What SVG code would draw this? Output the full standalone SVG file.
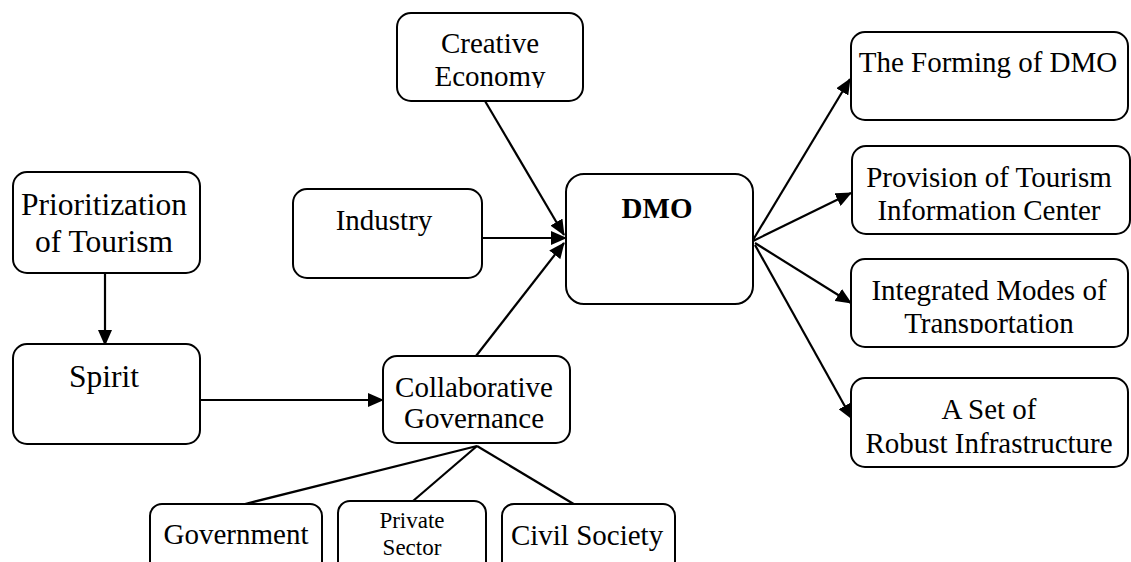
<svg xmlns="http://www.w3.org/2000/svg" width="1131" height="562" viewBox="0 0 1131 562">
  <style>
    .box { fill: #ffffff; stroke: #000000; stroke-width: 2; }
    .lbl { font-family: "Liberation Serif", "Times New Roman", serif; font-size: 29px; fill: #000000; text-anchor: middle; }
    .large { font-size: 31.5px; }
    .small { font-size: 23px; }
    .bold { font-weight: bold; }
    .edge { fill: none; stroke: #000000; stroke-width: 2.2; }
    .arrow { marker-end: url(#head); }
  </style>
  <defs>
    <marker id="head" markerUnits="userSpaceOnUse" markerWidth="16" markerHeight="14" viewBox="0 0 16 14" refX="15" refY="7" orient="auto">
      <path d="M0,0 L16,7 L0,14 Z" fill="#000000"/>
    </marker>
    <clipPath id="clipEconomy"><rect x="397" y="13" width="186" height="75"/></clipPath>
    <clipPath id="clipTransport"><rect x="851" y="259" width="277" height="74"/></clipPath>
  </defs>

  <rect width="1131" height="562" fill="#ffffff"/>

  <!-- connectors -->
  <g id="connectors">
    <path class="edge arrow" d="M105,273 L105,345"/>
    <path class="edge arrow" d="M200,400 L383,400"/>
    <path class="edge arrow" d="M476,356 L564,243"/>
    <path class="edge arrow" d="M482,238 L566,238"/>
    <path class="edge arrow" d="M485,101 L564,235"/>
    <path class="edge arrow" d="M753,240 L850,79"/>
    <path class="edge arrow" d="M753,241 L851,193"/>
    <path class="edge arrow" d="M755,243 L851,303"/>
    <path class="edge arrow" d="M755,245 L852,419"/>
    <path class="edge" d="M477,446 L245,504"/>
    <path class="edge" d="M477,446 L413,501"/>
    <path class="edge" d="M477,446 L577,506"/>
  </g>

  <!-- nodes -->
  <g id="creative-economy">
    <rect class="box" x="397" y="13" width="186" height="88" rx="14"/>
    <g clip-path="url(#clipEconomy)">
      <text class="lbl" x="490" y="53">Creative</text>
      <text class="lbl" x="490" y="86">Economy</text>
    </g>
  </g>

  <g id="industry">
    <rect class="box" x="293" y="189" width="189" height="89" rx="14"/>
    <text class="lbl" x="384" y="230">Industry</text>
  </g>

  <g id="dmo">
    <rect class="box" x="566" y="174" width="187" height="130" rx="18"/>
    <text class="lbl bold" x="657" y="218">DMO</text>
  </g>

  <g id="prioritization">
    <rect class="box" x="13" y="172" width="187" height="101" rx="14"/>
    <text class="lbl large" x="104" y="215">Prioritization</text>
    <text class="lbl large" x="104" y="252">of Tourism</text>
  </g>

  <g id="spirit">
    <rect class="box" x="13" y="344" width="187" height="100" rx="14"/>
    <text class="lbl large" x="104" y="387">Spirit</text>
  </g>

  <g id="collaborative-governance">
    <rect class="box" x="383" y="356" width="187" height="87" rx="14"/>
    <text class="lbl" x="474" y="397">Collaborative</text>
    <text class="lbl" x="474" y="428">Governance</text>
  </g>

  <g id="government">
    <rect class="box" x="150" y="504" width="172" height="80" rx="12"/>
    <text class="lbl" x="236" y="544">Government</text>
  </g>

  <g id="private-sector">
    <rect class="box" x="338" y="501" width="148" height="83" rx="12"/>
    <text class="lbl small" x="412" y="528">Private</text>
    <text class="lbl small" x="412" y="555">Sector</text>
  </g>

  <g id="civil-society">
    <rect class="box" x="502" y="504" width="173" height="80" rx="12"/>
    <text class="lbl" x="587" y="545">Civil Society</text>
  </g>

  <g id="forming-dmo">
    <rect class="box" x="851" y="32" width="277" height="88" rx="14"/>
    <text class="lbl" x="988" y="72">The Forming of DMO</text>
  </g>

  <g id="tourism-info-center">
    <rect class="box" x="852" y="146" width="278" height="88" rx="14"/>
    <text class="lbl" x="989" y="187">Provision of Tourism</text>
    <text class="lbl" x="989" y="220">Information Center</text>
  </g>

  <g id="transport-modes">
    <rect class="box" x="851" y="259" width="277" height="88" rx="14"/>
    <g clip-path="url(#clipTransport)">
      <text class="lbl" x="989" y="300">Integrated Modes of</text>
      <text class="lbl" x="989" y="333">Transportation</text>
    </g>
  </g>

  <g id="robust-infrastructure">
    <rect class="box" x="851" y="378" width="277" height="89" rx="14"/>
    <text class="lbl" x="989" y="419">A Set of</text>
    <text class="lbl" x="989" y="453">Robust Infrastructure</text>
  </g>
</svg>
